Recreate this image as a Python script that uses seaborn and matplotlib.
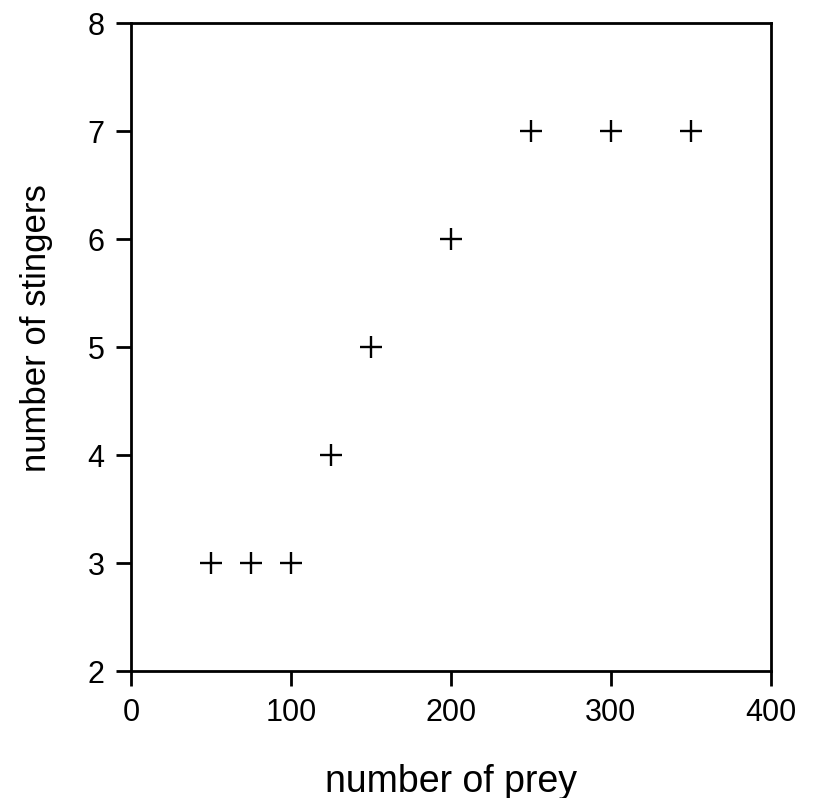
import matplotlib
matplotlib.use("Agg")
import matplotlib.pyplot as plt
import seaborn as sns
import pandas as pd

prey = [50, 75, 100, 125, 150, 200, 250, 300, 350]
stingers = [3, 3, 3, 4, 5, 6, 7, 7, 7]
xticks = [0, 100, 200, 300, 400]
yticks = [2, 3, 4, 5, 6, 7, 8]

sns.set_theme(style="ticks")
plt.rcParams['font.family'] = ['Liberation Sans', 'DejaVu Sans']

df = pd.DataFrame({"prey": prey, "stingers": stingers})

fig = plt.figure(figsize=(8.14, 7.98), dpi=100)
ax = fig.add_axes([0.161, 0.159, 0.786, 0.812])
sns.scatterplot(data=df, x="prey", y="stingers", marker="+", s=230,
                color="black", linewidth=1.7, ax=ax, legend=False)
ax.set_xlim(0, 400)
ax.set_ylim(2, 8)
ax.set_xticks(xticks)
ax.set_yticks(yticks)
ax.tick_params(axis="both", direction="out", length=11, width=2,
               labelsize=22, color="black", labelcolor="black", pad=8)
for s in ax.spines.values():
    s.set_visible(True)
    s.set_linewidth(2)
    s.set_color("black")
ax.set_xlabel("number of prey", fontsize=27, labelpad=26, color="black")
ax.set_ylabel("number of stingers", fontsize=25, color="black")
ax.yaxis.set_label_coords(-0.122, 0.53)
fig.savefig("out.png", dpi=100, facecolor="white")
